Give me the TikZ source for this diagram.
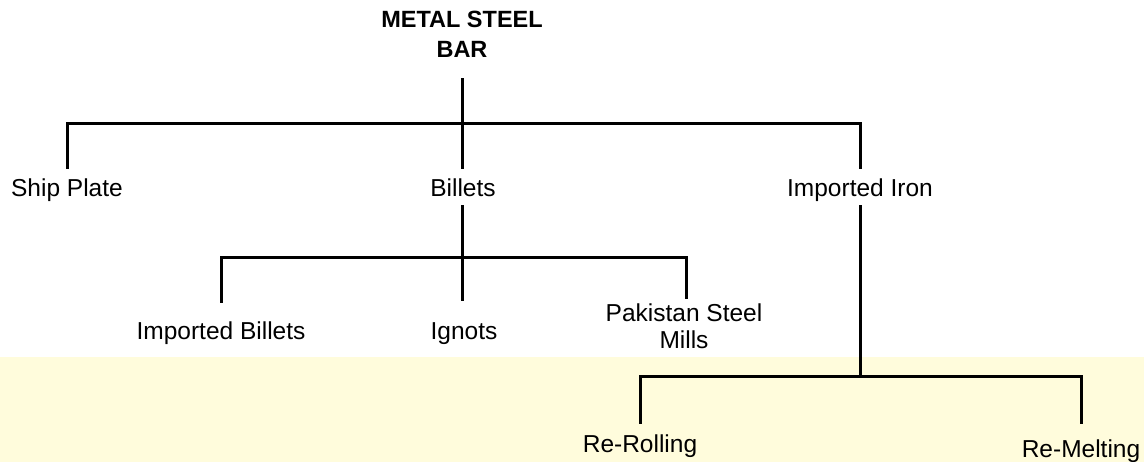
\documentclass[tikz,border=0pt]{standalone}
\usepackage{fontspec}
\setmainfont{Liberation Sans}
\definecolor{bgyellow}{RGB}{255,252,220}
\begin{document}
\begin{tikzpicture}[x=1pt,y=-1pt,
  lbl/.style={anchor=base, inner sep=0pt, align=center, font=\fontsize{24.5}{27}\selectfont},
  ttl/.style={anchor=base, inner sep=0pt, align=center, font=\bfseries\fontsize{23.5}{30}\selectfont},
  link/.style={line width=3pt, line join=miter, line cap=rect}]
\useasboundingbox (0,0) rectangle (1144,462);
\fill[bgyellow] (0,357) rectangle (1144,462);
% labels (base anchor = baseline of last line)
\node[ttl] (root) at (462,58) {METAL STEEL\\BAR};
\node[lbl] (ship) at (67,197) {Ship Plate};
\node[lbl] (billets) at (463,197) {Billets};
\node[lbl] (iron) at (860,197) {Imported Iron};
\node[lbl] (impb) at (221,340) {Imported Billets};
\node[lbl] (ignots) at (464,340) {Ignots};
\node[lbl] (psm) at (684,349) {Pakistan Steel\\Mills};
\node[lbl] (rerol) at (640,452) {Re-Rolling};
\node[lbl] (remel) at (1081,457) {Re-Melting};
% connector ends
\coordinate (r0) at (462,80);
\coordinate (r1) at (462,124);
\coordinate (s0) at (67,124);
\coordinate (s1) at (67,168);
\coordinate (b1) at (462,168);
\coordinate (i0) at (860,124);
\coordinate (i1) at (860,168);
\coordinate (bt) at (462,207);
\coordinate (bj) at (462,258);
\coordinate (g1) at (462,300);
\coordinate (ib0) at (221,258);
\coordinate (ib1) at (221,302);
\coordinate (p0) at (686,258);
\coordinate (p1) at (686,298);
\coordinate (it) at (860,207);
\coordinate (ij) at (860,377);
\coordinate (rr0) at (640,377);
\coordinate (rr1) at (640,423);
\coordinate (rm0) at (1081,377);
\coordinate (rm1) at (1081,423);
% connectors
\draw[link] (r0) -- (r1);
\draw[link] (s1) -- (s0) -- (i0) -- (i1);
\draw[link] (r1) -- (b1);
\draw[link] (bt) -- (g1);
\draw[link] (ib1) -- (ib0) -- (p0) -- (p1);
\draw[link] (it) -- (ij);
\draw[link] (rr1) -- (rr0) -- (rm0) -- (rm1);
\end{tikzpicture}
\end{document}
